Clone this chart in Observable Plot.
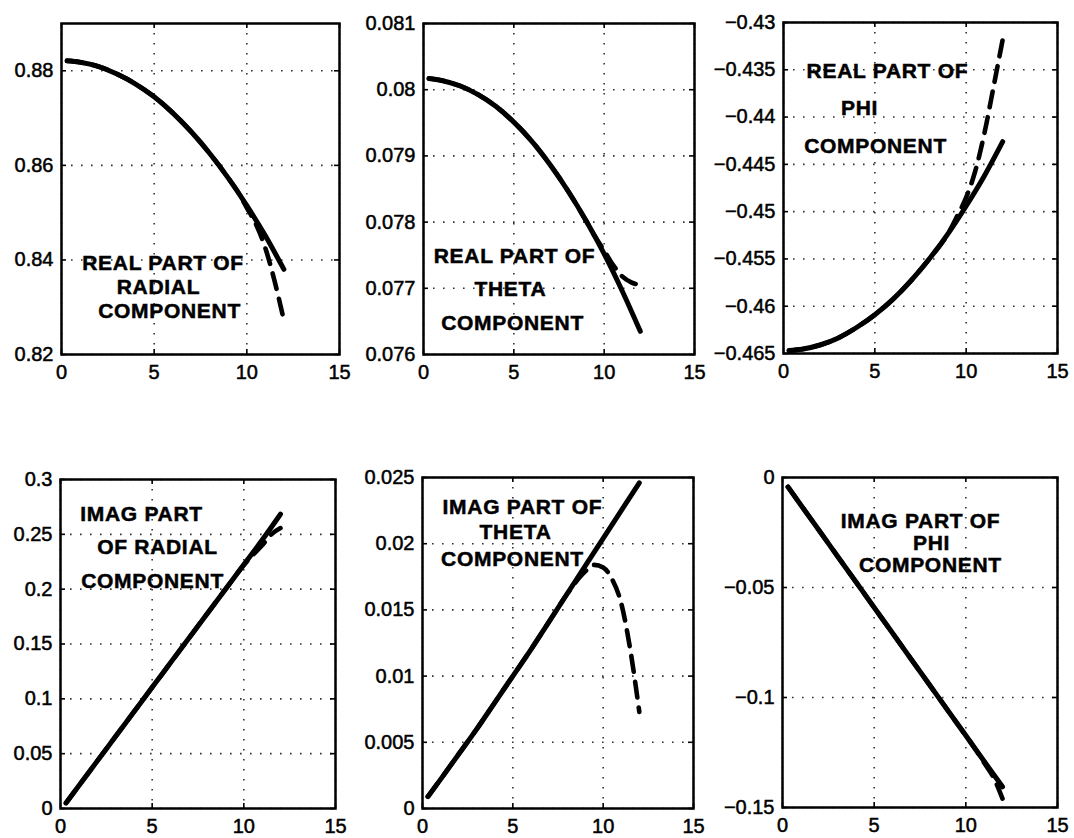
<!DOCTYPE html>
<html>
<head>
<meta charset="utf-8">
<script src="https://cdn.jsdelivr.net/npm/d3@7"></script>
<script src="https://cdn.jsdelivr.net/npm/@observablehq/plot@0.6"></script>
<style>
  body { margin: 0; background: #fff; }
  #chart { position: relative; width: 1074px; height: 838px; background: #fff; overflow: hidden; }
  #chart svg { position: absolute; }
  #chart svg g[aria-label="x-axis tick label"],
  #chart svg g[aria-label="y-axis tick label"] { font-size: 20px; stroke: #000; stroke-width: 0.5px; }
  #chart svg g[aria-label="text"] { letter-spacing: 0.7px; stroke: #000; stroke-width: 0.5px; }
</style>
</head>
<body>
<div id="chart"></div>
<script>
// ---------- data ----------
const xTicks = [0, 5, 10, 15];
const xSolid = [0.3, 1, 2, 3, 4, 5, 6, 7, 8, 9, 10, 11, 12];
const xDashed = [0.3, 1, 2, 3, 4, 5, 6, 7, 8, 9, 9.5, 10, 10.5, 11, 11.5, 12];

// Real part of radial component
const realRadialSolid  = [0.8821, 0.8818, 0.8809, 0.8793, 0.8772, 0.8745, 0.8711, 0.8671, 0.8625, 0.8573, 0.8515, 0.8451, 0.8380];
const realRadialDashed = [0.8821, 0.8818, 0.8809, 0.8793, 0.8772, 0.8745, 0.8711, 0.8671, 0.8625, 0.8573, 0.8545, 0.8510, 0.8475, 0.8425, 0.8355, 0.8272];
const realRadialTicks  = [0.82, 0.84, 0.86, 0.88];
const realRadialDomain = [0.82, 0.89];
const realRadialNotes  = [
  {x: 5.48, y: 0.8378, text: "REAL PART OF"},
  {x: 5.23, y: 0.8329, text: "RADIAL"},
  {x: 5.83, y: 0.8278, text: "COMPONENT"}
];

// Real part of theta component
const realThetaSolid  = [0.08017, 0.08014, 0.08006, 0.07993, 0.07975, 0.07951, 0.07922, 0.07887, 0.07847, 0.07802, 0.07752, 0.07696, 0.07635];
const realThetaDashed = [0.08017, 0.08014, 0.08006, 0.07993, 0.07975, 0.07951, 0.07922, 0.07887, 0.07847, 0.07802, 0.07778, 0.07757, 0.07735, 0.07718, 0.07709, 0.07705];
const realThetaTicks  = [0.076, 0.077, 0.078, 0.079, 0.08, 0.081];
const realThetaDomain = [0.076, 0.081];
const realThetaNotes  = [
  {x: 5.04, y: 0.077375, text: "REAL PART OF"},
  {x: 4.81, y: 0.076891, text: "THETA"},
  {x: 4.93, y: 0.076363, text: "COMPONENT"}
];

// Real part of phi component
const realPhiSolid  = [-0.46468, -0.46455, -0.46410, -0.46335, -0.46225, -0.46090, -0.45925, -0.45725, -0.45495, -0.45235, -0.44940, -0.44620, -0.44260];
const realPhiDashed = [-0.46468, -0.46455, -0.46410, -0.46335, -0.46225, -0.46090, -0.45925, -0.45725, -0.45495, -0.45235, -0.45050, -0.44850, -0.44570, -0.44170, -0.43680, -0.43180];
const realPhiTicks  = [-0.465, -0.46, -0.455, -0.45, -0.445, -0.44, -0.435, -0.43];
const realPhiDomain = [-0.465, -0.43];
const realPhiNotes  = [
  {x: 5.69, y: -0.43582, text: "REAL PART OF"},
  {x: 4.16, y: -0.43983, text: "PHI"},
  {x: 5.04, y: -0.44385, text: "COMPONENT"}
];

// Imag part of radial component
const imagRadialSolid  = [0.0050, 0.0208, 0.0432, 0.0656, 0.0880, 0.1105, 0.1328, 0.1552, 0.1776, 0.2000, 0.2224, 0.2448, 0.2684];
const imagRadialDashed = [0.0050, 0.0208, 0.0432, 0.0656, 0.0880, 0.1105, 0.1328, 0.1552, 0.1776, 0.2000, 0.2112, 0.2220, 0.2312, 0.2400, 0.2500, 0.2557];
const imagRadialTicks  = [0, 0.05, 0.1, 0.15, 0.2, 0.25, 0.3];
const imagRadialDomain = [0, 0.3];
const imagRadialNotes  = [
  {x: 4.42, y: 0.2626, text: "IMAG PART"},
  {x: 5.29, y: 0.2325, text: "OF RADIAL"},
  {x: 5.02, y: 0.2015, text: "COMPONENT"}
];

// Imag part of theta component
const imagThetaSolid  = [0.0009, 0.0022, 0.0041, 0.0060, 0.0080, 0.0100, 0.0120, 0.0141, 0.0162, 0.0183, 0.0204, 0.0225, 0.0246];
const imagThetaDashed = [0.0009, 0.0022, 0.0041, 0.0060, 0.0080, 0.0100, 0.0120, 0.0141, 0.0162, 0.0179, 0.0184, 0.0182, 0.0173, 0.0155, 0.0120, 0.0073];
const imagThetaTicks  = [0, 0.005, 0.01, 0.015, 0.02, 0.025];
const imagThetaDomain = [0, 0.025];
const imagThetaNotes  = [
  {x: 5.53, y: 0.02228, text: "IMAG PART OF"},
  {x: 5.15, y: 0.02032, text: "THETA"},
  {x: 4.98, y: 0.01835, text: "COMPONENT"}
];

// Imag part of phi component
const imagPhiSolid  = [-0.0043, -0.0125, -0.0241, -0.0358, -0.0474, -0.0591, -0.0707, -0.0824, -0.0940, -0.1057, -0.1173, -0.1290, -0.1406];
const imagPhiDashed = [-0.0043, -0.0125, -0.0241, -0.0358, -0.0474, -0.0591, -0.0707, -0.0824, -0.0940, -0.1057, -0.1115, -0.1173, -0.1232, -0.1297, -0.1362, -0.1460];
const imagPhiTicks  = [-0.15, -0.1, -0.05, 0];
const imagPhiDomain = [-0.15, 0];
const imagPhiNotes  = [
  {x: 7.53, y: -0.02318, text: "IMAG PART OF"},
  {x: 8.13, y: -0.03318, text: "PHI"},
  {x: 8.07, y: -0.04318, text: "COMPONENT"}
];

// ---------- layout (frame boxes in page pixels) ----------
const panels = [
  {solid: realRadialSolid, dashed: realRadialDashed, yTicks: realRadialTicks, yDomain: realRadialDomain, notes: realRadialNotes, box: {left: 61,  top: 23,  w: 278, h: 331}},
  {solid: realThetaSolid,  dashed: realThetaDashed,  yTicks: realThetaTicks,  yDomain: realThetaDomain,  notes: realThetaNotes,  box: {left: 423, top: 23,  w: 271, h: 331}},
  {solid: realPhiSolid,    dashed: realPhiDashed,    yTicks: realPhiTicks,    yDomain: realPhiDomain,    notes: realPhiNotes,    box: {left: 783, top: 22,  w: 274, h: 331}},
  {solid: imagRadialSolid, dashed: imagRadialDashed, yTicks: imagRadialTicks, yDomain: imagRadialDomain, notes: imagRadialNotes, box: {left: 60,  top: 479, w: 275, h: 329}},
  {solid: imagThetaSolid,  dashed: imagThetaDashed,  yTicks: imagThetaTicks,  yDomain: imagThetaDomain,  notes: imagThetaNotes,  box: {left: 422, top: 477, w: 271, h: 331}},
  {solid: imagPhiSolid,    dashed: imagPhiDashed,    yTicks: imagPhiTicks,    yDomain: imagPhiDomain,    notes: imagPhiNotes,    box: {left: 782, top: 477, w: 275, h: 330}}
];

const FONT = '"Liberation Sans", Arial, Helvetica, sans-serif';
const fmt = d => String(Math.round(d * 1e6) / 1e6).replace("-", "\u2212");

const mL = 75, mT = 14, mR = 14, mB = 36;
const chart = document.getElementById("chart");

for (const p of panels) {
  const {left, top, w, h} = p.box;
  const solid = xSolid.map((x, i) => ({x, y: p.solid[i]}));
  const dashed = xDashed.map((x, i) => ({x, y: p.dashed[i]}));
  const gridStyle = {stroke: "#333", strokeWidth: 1.6, strokeDasharray: "1.6,8.4"};
  const tickStyle = {stroke: "#000", strokeWidth: 1.6};
  const svg = Plot.plot({
    width: w + mL + mR,
    height: h + mT + mB,
    marginLeft: mL, marginTop: mT, marginRight: mR, marginBottom: mB,
    style: {background: "none", fontFamily: FONT, fontSize: "20px", color: "#000", overflow: "visible"},
    x: {domain: [0, 15]},
    y: {domain: p.yDomain},
    marks: [
      Plot.ruleX(xTicks, {x: d => d, ...gridStyle}),
      Plot.ruleY(p.yTicks, {y: d => d, ...gridStyle}),
      Plot.tickY(p.yTicks, {y: d => d, insetRight: w - 5, ...tickStyle}),
      Plot.tickY(p.yTicks, {y: d => d, insetLeft: w - 5, ...tickStyle}),
      Plot.tickX(xTicks, {x: d => d, insetTop: h - 5, ...tickStyle}),
      Plot.tickX(xTicks, {x: d => d, insetBottom: h - 5, ...tickStyle}),
      Plot.text(p.notes, {x: "x", y: "y", text: "text", textAnchor: "middle", lineAnchor: "bottom",
        fontWeight: "bold", fontSize: 21, fill: "#000", fontFamily: FONT}),
      Plot.line(dashed, {x: "x", y: "y", stroke: "#000", strokeWidth: 4.6, strokeDasharray: "16,10", curve: "monotone-x"}),
      Plot.line(solid, {x: "x", y: "y", stroke: "#000", strokeWidth: 5, curve: "monotone-x"}),
      Plot.frame({stroke: "#000", strokeWidth: 2.5}),
      Plot.axisX({ticks: xTicks, tickSize: 0, tickPadding: 10, tickFormat: fmt, label: null, fontSize: 20, fill: "#000"}),
      Plot.axisY({ticks: p.yTicks, tickSize: 0, tickPadding: 8, tickFormat: fmt, label: null, fontSize: 20, fill: "#000"})
    ]
  });
  svg.style.left = (left - mL) + "px";
  svg.style.top = (top - mT) + "px";
  svg.style.maxWidth = "none";
  chart.appendChild(svg);
}
</script>
</body>
</html>
